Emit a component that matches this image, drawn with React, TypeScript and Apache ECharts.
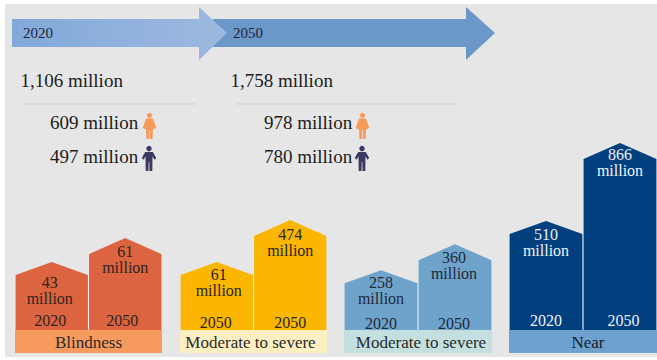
import React, { useEffect, useRef } from "react";
import * as echarts from "echarts";

// Projected prevalence of vision impairment, 2020 and 2050 (millions)
const blindnessYears = ["2020", "2050"];
const blindnessValues = [43, 61];
const moderateYears = ["2050", "2050"];
const moderateValues = [61, 474];
const moderateBlueYears = ["2020", "2050"];
const moderateBlueValues = [258, 360];
const nearYears = ["2020", "2050"];
const nearValues = [510, 866];
const captions = ["Blindness", "Moderate to severe", "Moderate to severe", "Near"];

const periodLabels = ["2020", "2050"];
const totals = ["1,106 million", "1,758 million"];
const women = ["609 million", "978 million"];
const men = ["497 million", "780 million"];

const SERIF = '"Liberation Serif", "Times New Roman", serif';
const GRID_TOP = 130;
const GRID_BOTTOM_Y = 330;

// Each panel has its own hidden value axis and its own styling and text nudges.
const panels = [
  { left: 15, width: 147, values: blindnessValues, years: blindnessYears, min: -8, max: 142, fill: "#dd6440", strip: "#f79a5e", ink: "#2b2420", drop: [20, 13], yearY: 320, yearDx: [-1.5, -3], valueDx: [-2, 0], captionDx: 0 },
  { left: 180, width: 147, values: moderateValues, years: moderateYears, min: -608, max: 1359, fill: "#fbb700", strip: "#fdefc2", ink: "#2b2420", drop: [13, 15], yearY: 322, yearDx: [-1, 0], valueDx: [2, 0], captionDx: -3 },
  { left: 344, width: 148, values: moderateBlueValues, years: moderateBlueYears, min: 23, max: 808, fill: "#6ea3cc", strip: "#c4dfe0", ink: "#1f2a36", drop: [12, 13], yearY: 323, yearDx: [0, -1], valueDx: [0, -1], captionDx: 3 },
  { left: 509, width: 148, values: nearValues, years: nearYears, min: 12, max: 925, fill: "#023f7f", strip: "#6ea1cd", ink: "#eef3f8", drop: [14, 12], yearY: 320, yearDx: [0, 3.5], valueDx: [0, 0], captionDx: 5 },
];

const SHOULDER = [13, 16];

function houseSeries(panel: (typeof panels)[number], index: number) {
  return {
    type: "custom",
    xAxisIndex: index,
    yAxisIndex: index,
    clip: false,
    data: panel.values.map((v, i) => [i, v]),
    renderItem: (_params: any, api: any) => {
      const i = api.value(0);
      const v = api.value(1);
      const [cx, apexY] = api.coord([i, v]);
      const [, baseY] = api.coord([i, panel.min]);
      const half = api.size([1, 0])[0] / 2 - 0.6;
      const shoulderY = apexY + SHOULDER[i];
      const textStyle = {
        align: "center",
        verticalAlign: "middle",
        fontFamily: SERIF,
        fontSize: 16,
        fill: panel.ink,
      };
      return {
        type: "group",
        children: [
          {
            type: "polygon",
            shape: {
              points: [
                [cx - half, baseY],
                [cx - half, shoulderY],
                [cx, apexY],
                [cx + half, shoulderY],
                [cx + half, baseY],
              ],
            },
            style: { fill: panel.fill },
          },
          {
            type: "text",
            style: {
              ...textStyle,
              text: `${v}\nmillion`,
              x: cx + panel.valueDx[i],
              y: apexY + panel.drop[i] + 8,
              lineHeight: 16,
            },
          },
          {
            type: "text",
            style: {
              ...textStyle,
              text: panel.years[i],
              x: cx + panel.yearDx[i],
              y: panel.yearY,
            },
          },
        ],
      };
    },
  };
}

function womanIcon(x: number, y: number) {
  const fill = "#f79a5c";
  return {
    type: "group",
    x,
    y,
    children: [
      { type: "circle", shape: { cx: 7, cy: 2.5, r: 2.6 }, style: { fill } },
      {
        type: "polygon",
        shape: {
          points: [[3.5, 5.5], [10.5, 5.5], [13.8, 15], [10.5, 16.5], [10, 26], [7.4, 26], [7.4, 17], [6.6, 17], [6.6, 26], [4, 26], [3.5, 16.5], [0.2, 15]],
        },
        style: { fill },
      },
    ],
  };
}

function manIcon(x: number, y: number) {
  const fill = "#3c3a62";
  return {
    type: "group",
    x,
    y,
    children: [
      { type: "circle", shape: { cx: 7, cy: 2.6, r: 2.7 }, style: { fill } },
      {
        type: "polygon",
        shape: {
          points: [[3.2, 6], [10.8, 6], [14.2, 12], [12.5, 13.8], [10.5, 10.5], [10.3, 25], [7.5, 25], [7.3, 16], [6.7, 16], [6.5, 25], [3.7, 25], [3.5, 10.5], [1.5, 13.8], [-0.2, 12]],
        },
        style: { fill },
      },
    ],
  };
}

function serifText(text: string, x: number, y: number, fontSize: number, fill: string, align = "left") {
  return {
    type: "text",
    x,
    y,
    style: { text, fontFamily: SERIF, fontSize, fill, align, verticalAlign: "middle" },
  };
}

function buildOption() {
  const arrow2 = {
    type: "polygon",
    shape: { points: [[213, 19], [466, 19], [466, 7], [495, 33], [466, 60], [466, 47], [213, 47]] },
    style: { fill: "#6c97c9" },
  };
  const arrow1 = {
    type: "polygon",
    shape: { points: [[12, 19], [199, 19], [199, 7], [227, 33], [199, 60], [199, 47], [12, 47]] },
    style: {
      fill: new echarts.graphic.LinearGradient(0, 0, 1, 0, [
        { offset: 0, color: "#82a9da" },
        { offset: 1, color: "#9db9df" },
      ]),
    },
  };

  const graphic: any[] = [
    { type: "rect", shape: { x: 5, y: 4, width: 652, height: 353 }, style: { fill: "#e6e6e6" } },
    arrow2,
    arrow1,
    serifText(periodLabels[0], 23, 33, 15, "#1d2433"),
    serifText(periodLabels[1], 233, 33, 15, "#1d2433"),
    serifText(totals[0], 20.5, 80, 19, "#1c1c1c"),
    serifText(totals[1], 230.5, 80, 19, "#1c1c1c"),
    { type: "line", shape: { x1: 22, y1: 104, x2: 196, y2: 104 }, style: { stroke: "#cdcdda", lineWidth: 1 } },
    { type: "line", shape: { x1: 236, y1: 104, x2: 457, y2: 104 }, style: { stroke: "#cdcdda", lineWidth: 1 } },
    serifText(women[0], 50, 122, 19, "#1c1c1c"),
    serifText(men[0], 50, 156, 19, "#1c1c1c"),
    serifText(women[1], 264, 122, 19, "#1c1c1c"),
    serifText(men[1], 264, 156, 19, "#1c1c1c"),
    womanIcon(142.5, 113),
    manIcon(142, 146),
    womanIcon(355.5, 113),
    manIcon(355, 146),
  ];

  panels.forEach((p, i) => {
    graphic.push({
      type: "rect",
      shape: { x: p.left, y: GRID_BOTTOM_Y, width: p.width, height: 23 },
      style: { fill: p.strip },
    });
    graphic.push(
      serifText(captions[i], p.left + p.width / 2 + p.captionDx, 342, 17, i === 3 ? "#14202e" : "#2a2a2a", "center")
    );
  });

  return {
    animation: false,
    backgroundColor: "#ffffff",
    graphic,
    grid: panels.map((p) => ({
      left: p.left,
      width: p.width,
      top: GRID_TOP,
      bottom: 360 - GRID_BOTTOM_Y,
    })),
    xAxis: panels.map((p, i) => ({
      type: "category",
      gridIndex: i,
      data: p.years,
      axisLine: { show: false },
      axisTick: { show: false },
      axisLabel: { show: false },
    })),
    yAxis: panels.map((p, i) => ({
      type: "value",
      gridIndex: i,
      min: p.min,
      max: p.max,
      show: false,
      splitLine: { show: false },
    })),
    series: panels.map(houseSeries),
  };
}

export default function App() {
  const ref = useRef<HTMLDivElement>(null);

  useEffect(() => {
    const chart = echarts.init(ref.current!, undefined, { renderer: "svg" });
    chart.setOption(buildOption() as any);
    return () => chart.dispose();
  }, []);

  return (
    <div
      ref={ref}
      style={{ position: "fixed", left: 0, top: 0, width: 657, height: 360 }}
    />
  );
}
